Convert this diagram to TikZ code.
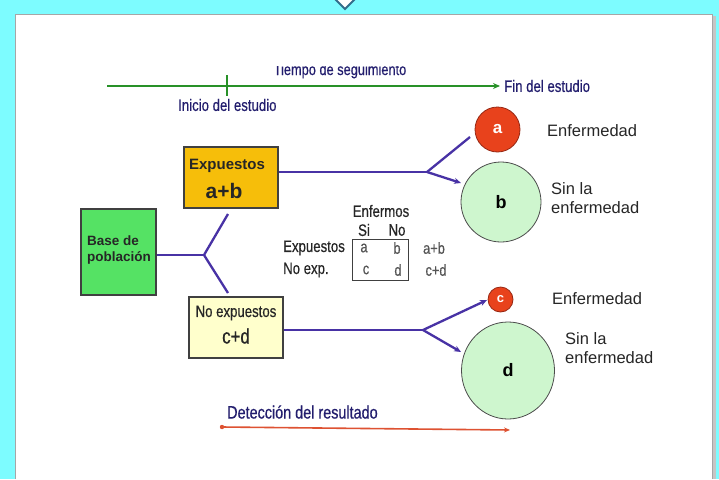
\documentclass[tikz,border=0pt]{standalone}
\usepackage{fontspec}
\setmainfont{Liberation Sans}
\newfontfamily\narrowfont[FakeStretch=0.8, FakeBold=0.5]{Liberation Sans}
\usetikzlibrary{arrows.meta,shapes.geometric}
\definecolor{bgcyan}{RGB}{125,252,255}
\definecolor{steelb}{RGB}{50,110,140}
\definecolor{tlgreen}{RGB}{40,145,40}
\definecolor{navytxt}{RGB}{35,30,110}
\definecolor{purpline}{RGB}{72,50,165}
\definecolor{expcol}{RGB}{246,190,10}
\definecolor{basecol}{RGB}{85,226,100}
\definecolor{noexpcol}{RGB}{255,255,204}
\definecolor{redc}{RGB}{232,66,28}
\definecolor{reddark}{RGB}{150,40,20}
\definecolor{lgreen}{RGB}{206,246,206}
\definecolor{detcol}{RGB}{222,82,50}
\definecolor{tgray}{RGB}{85,85,85}
\tikzset{
  boxst/.style={draw=black!75, line width=1.1pt, inner sep=0pt},
  narrowtxt/.style={font=\narrowfont\fontsize{16.5}{18}\selectfont},
  plaintxt/.style={font=\fontsize{16.5}{19}\selectfont, text=black!85},
  conn/.style={draw=purpline, line width=2.3pt},
  connarr/.style={conn, -{Stealth[length=7pt,width=6pt]}},
}
\begin{document}
\begin{tikzpicture}[x=1pt,y=-1pt]
\useasboundingbox (0,0) rectangle (719,479);
\fill[bgcyan] (0,0) rectangle (719,479);
% panel and shadow
\fill[gray!45] (17,16) rectangle (716,479);
\fill[white] (15,14) rectangle (712,479);
\draw[gray!70, line width=1pt] (15,479) -- (15,14) -- (712,14) -- (712,479);
% diamond at top
\begin{scope}
  \clip (0,0) rectangle (719,12);
  \filldraw[fill=white, draw=steelb, line width=1.8pt] (345,9) -- (356,-2) -- (345,-13) -- (334,-2) -- cycle;
\end{scope}
% timeline
\coordinate (tlstart) at (107,86);
\coordinate (tlend) at (500,86);
\coordinate (tickt) at (227,75);
\coordinate (tickb) at (227,96);
\draw[tlgreen, line width=2pt, -{Stealth[length=7pt,width=6pt]}] (tlstart) -- (tlend);
\draw[tlgreen, line width=2pt] (tickt) -- (tickb);
\begin{scope}
  \clip (200,66.5) rectangle (450,82);
  \node[text=navytxt, anchor=base, font=\narrowfont\fontsize{16}{18}\selectfont] (tiempo) at (340,75) {Tiempo de seguimiento};
\end{scope}
\node[narrowtxt, text=navytxt, anchor=west, inner sep=0pt] (inicio) at (178,105) {Inicio del estudio};
\node[narrowtxt, text=navytxt, anchor=west, inner sep=0pt] (fin) at (504,86) {Fin del estudio};
% boxes
\node[boxst, fill=expcol, minimum width=94pt, minimum height=61pt] (exp) at (231,177.5) {};
\node[font=\fontsize{15}{17}\selectfont\bfseries, text=black!85] (expt1) at (227,166) {Expuestos};
\node[font=\fontsize{21}{24}\selectfont\bfseries, text=black!85] (expt2) at (224,191) {a+b};
\node[boxst, fill=basecol, minimum width=75pt, minimum height=86pt] (base) at (118.5,252) {};
\node[font=\fontsize{13.5}{16.5}\selectfont\bfseries, text=black!85, align=left, anchor=west, inner sep=0pt] (baset) at (87,250) {Base de\\población};
\node[boxst, fill=noexpcol, minimum width=94pt, minimum height=61pt] (noexp) at (236,327.5) {};
\node[narrowtxt, text=black!85] (noexpt1) at (236,313) {No expuestos};
\node[font=\narrowfont\fontsize{21}{24}\selectfont, text=black!85] (noexpt2) at (236,336) {c+d};
% circles
\node[circle, fill=redc, draw=reddark, line width=0.8pt, minimum size=45pt, inner sep=0pt, text=white, font=\fontsize{17}{19}\selectfont\bfseries] (ca) at (497.5,129.5) {a};
\node[circle, fill=lgreen, draw=black!70, line width=0.8pt, minimum size=80pt, inner sep=0pt, text=black, font=\fontsize{18}{20}\selectfont\bfseries] (cb) at (501,202) {b};
\node[circle, fill=redc, draw=reddark, line width=0.8pt, minimum size=25pt, inner sep=0pt, text=white, font=\fontsize{13}{15}\selectfont\bfseries] (cc) at (500.5,299.5) {c};
\node[ellipse, fill=lgreen, draw=black!70, line width=0.8pt, minimum width=93pt, minimum height=97pt, inner sep=0pt, text=black, font=\fontsize{18}{20}\selectfont\bfseries] (cd) at (508,370.5) {d};
% outcome labels
\node[plaintxt, anchor=west, inner sep=0pt] (enf1) at (547,131) {Enfermedad};
\node[plaintxt, anchor=west, inner sep=0pt, align=left] (sin1) at (551,198) {Sin la\\enfermedad};
\node[plaintxt, anchor=west, inner sep=0pt] (enf2) at (552,299) {Enfermedad};
\node[plaintxt, anchor=west, inner sep=0pt, align=left] (sin2) at (565,348) {Sin la\\enfermedad};
% connectors
\coordinate (fork0) at (204,255);
\coordinate (up0) at (228,214);
\coordinate (dn0) at (228,293);
\draw[conn] (base.east |- fork0) -- (fork0);
\draw[conn] (fork0) -- (up0);
\draw[conn] (fork0) -- (dn0);
\coordinate (fork1) at (427,172);
\coordinate (enda) at (470,137);
\coordinate (endb) at (461,183);
\draw[conn] (exp.east |- fork1) -- (fork1);
\draw[conn] (fork1) -- (enda);
\draw[connarr] (fork1) -- (endb);
\coordinate (fork2) at (423,330);
\coordinate (endc) at (487,300);
\coordinate (endd) at (461,352);
\draw[conn] (noexp.east |- fork2) -- (fork2);
\draw[connarr] (fork2) -- (endc);
\draw[connarr] (fork2) -- (endd);
% 2x2 table
\node[narrowtxt, text=black!85] (enfermos) at (381,211) {Enfermos};
\node[narrowtxt, text=black!85] (si) at (364,230) {Si};
\node[narrowtxt, text=black!85] (no) at (397,230) {No};
\node[draw=black!75, line width=0.9pt, minimum width=56pt, minimum height=41pt, inner sep=0pt] (tab) at (380,259.5) {};
\node[narrowtxt, text=black!85, anchor=west, inner sep=0pt] (rexp) at (283,248) {Expuestos};
\node[narrowtxt, text=black!85, anchor=west, inner sep=0pt] (rnoexp) at (283,270) {No exp.};
\node[font=\narrowfont\fontsize{16}{18}\selectfont, text=tgray] (ta) at (364,248) {a};
\node[font=\narrowfont\fontsize{16}{18}\selectfont, text=tgray] (tb) at (397,248) {b};
\node[font=\narrowfont\fontsize{16}{18}\selectfont, text=tgray] (tc) at (366,270) {c};
\node[font=\narrowfont\fontsize{16}{18}\selectfont, text=tgray] (td) at (398,270) {d};
\node[font=\narrowfont\fontsize{16}{18}\selectfont, text=tgray] (tab1) at (434,248) {a+b};
\node[font=\narrowfont\fontsize{16}{18}\selectfont, text=tgray] (tcd) at (436,270) {c+d};
% detection
\node[text=navytxt, anchor=west, inner sep=0pt, font=\narrowfont\fontsize{18}{20}\selectfont] (detec) at (227,412) {Detección del resultado};
\coordinate (detstart) at (222,427);
\coordinate (detend) at (510,430);
\fill[detcol] (detstart) circle (2.2pt);
\draw[detcol, line width=1.6pt, -{Stealth[length=6pt,width=5pt]}] (detstart) -- (detend);
\end{tikzpicture}
\end{document}
